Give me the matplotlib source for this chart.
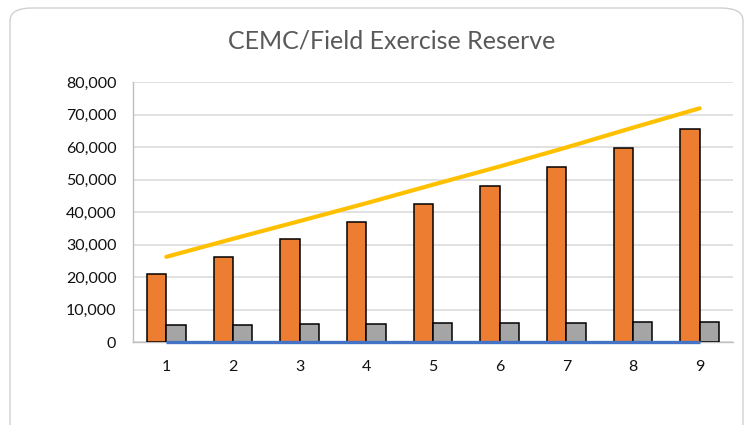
import matplotlib
matplotlib.use("Agg")
import matplotlib.pyplot as plt
from matplotlib.patches import FancyBboxPatch
from matplotlib.ticker import FuncFormatter
import numpy as np

plt.rcParams['font.family'] = ['Lato', 'DejaVu Sans']

# Data per year
years = [1, 2, 3, 4, 5, 6, 7, 8, 9]
field_exercise = [21000, 26400, 31700, 37100, 42700, 48200, 53900, 59900, 65700]
cemc = [5300, 5450, 5600, 5700, 5800, 5900, 6050, 6150, 6300]
total_reserve = [26300, 31850, 37300, 42800, 48500, 54100, 59950, 66050, 72000]
baseline = [0, 0, 0, 0, 0, 0, 0, 0, 0]

title = "CEMC/Field Exercise Reserve"

fig = plt.figure(figsize=(7.45, 4.25), dpi=100)

# rounded chart frame
frame = FancyBboxPatch((10 / 745, 1 - 440 / 425), 733 / 745, 432 / 425,
                       boxstyle="round,pad=0,rounding_size=0.03",
                       transform=fig.transFigure, facecolor="none",
                       edgecolor="#d0d0d0", linewidth=1.0, zorder=-1)
fig.patches.append(frame)

ax = fig.add_axes([133 / 745, 1 - 342.3 / 425, 600 / 745, 260 / 425])
ax.set_facecolor("none")

x = np.array(years)
w = 0.29
ax.bar(x - w / 2, field_exercise, width=w, color="#ED7D31", edgecolor="black",
       linewidth=1.1, zorder=3)
ax.bar(x + w / 2, cemc, width=w, color="#A5A5A5", edgecolor="black",
       linewidth=1.1, zorder=3)
ax.plot(x, baseline, color="#4472C4", linewidth=2.4, zorder=4,
        solid_capstyle="butt", clip_on=False)
ax.plot(x, total_reserve, color="#FFC000", linewidth=3.0, zorder=5,
        solid_capstyle="round")

ax.set_xlim(0.5, 9.5)
ax.set_ylim(0, 80000)
ax.set_yticks(np.arange(0, 80001, 10000))
ax.yaxis.set_major_formatter(FuncFormatter(lambda v, p: f"{int(v):,}"))
ax.set_xticks(x)
ax.set_xticklabels([str(y) for y in years])

ax.grid(axis="y", color="#d9d9d9", linewidth=1.1, zorder=0)
ax.set_axisbelow(True)
for side in ["top", "right"]:
    ax.spines[side].set_visible(False)
ax.spines["left"].set_color("#bfbfbf")
ax.spines["bottom"].set_color("#bfbfbf")
ax.spines["left"].set_linewidth(1.0)
ax.spines["bottom"].set_linewidth(1.0)

ax.tick_params(axis="both", length=0, labelsize=11.5, labelcolor="#111111")
ax.tick_params(axis="y", pad=12)
ax.tick_params(axis="x", pad=13)

fig.text(392 / 745, 1 - 41 / 425, title, ha="center", va="center",
         fontsize=18, color="#595959")

fig.savefig("out.png", dpi=100)
